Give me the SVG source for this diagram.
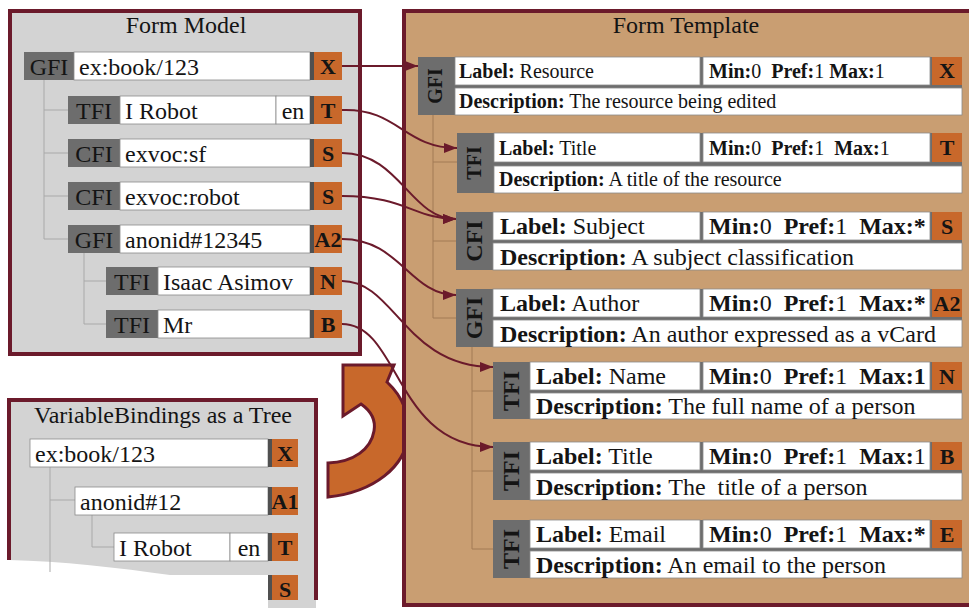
<svg xmlns="http://www.w3.org/2000/svg" width="969" height="608" viewBox="0 0 969 608">
<defs>
<style>
text{font-family:"Liberation Serif","Times New Roman",serif;fill:#141414}
.ttl{font-size:24px;text-anchor:middle}
.t{font-size:24px}
.c{font-size:24px;text-anchor:middle}
.ob{font-size:22px;font-weight:bold;text-anchor:middle}
.s{font-size:20px}
.b{font-size:24px}
.vl{font-weight:bold;text-anchor:middle}
.bold{font-weight:bold}
.gr{fill:#6d6d6d}
.wh{fill:#ffffff;stroke:#8a8a8a;stroke-width:0.8}
.or{fill:#c8682b}
.st{fill:#505050}
.tree{fill:none;stroke:#a9a9a9;stroke-width:1}
.tree2{fill:none;stroke:#a27a55;stroke-width:1}
.con{fill:none;stroke:#6b1a2b;stroke-width:2}
</style>
<marker id="ah" markerWidth="13" markerHeight="10" refX="13" refY="5" orient="auto" markerUnits="userSpaceOnUse"><path d="M0,0 L13,5 L0,10 z" fill="#6b1a2b"/></marker>
</defs>
<rect width="969" height="608" fill="#ffffff"/>

<!-- Form Model panel -->
<g id="form-model">
<rect x="10" y="11" width="350" height="343" fill="#d3d3d3" stroke="#6b1a2b" stroke-width="4"/>
<text class="ttl" x="186" y="33">Form Model</text>
<path class="tree" d="M44,80 V239 M44,110 H68 M44,153 H68 M44,196 H68 M44,239 H68 M84,252 V324 M84,281 H106 M84,324 H106"/>
</g>
<g id="fm-row1"><rect class="gr" x="24" y="52" width="50" height="28"/><rect class="wh" x="74" y="52" width="236" height="28"/><rect class="st" x="310" y="52" width="4" height="28"/><rect class="or" x="314" y="52" width="28" height="28"/>
<text class="c" x="49" y="75">GFI</text><text class="t" x="79" y="75">ex:book/123</text><text class="ob" x="328" y="74">X</text></g>
<g id="fm-row2"><rect class="gr" x="68" y="96" width="52" height="28"/><rect class="wh" x="120" y="96" width="156" height="28"/><rect class="wh" x="276" y="96" width="34" height="28"/><rect class="st" x="310" y="96" width="4" height="28"/><rect class="or" x="314" y="96" width="28" height="28"/>
<text class="c" x="94" y="119">TFI</text><text class="t" x="125" y="119">I Robot</text><text class="c" x="293" y="119">en</text><text class="ob" x="328" y="118">T</text></g>
<g id="fm-row3"><rect class="gr" x="68" y="139" width="52" height="28"/><rect class="wh" x="120" y="139" width="190" height="28"/><rect class="st" x="310" y="139" width="4" height="28"/><rect class="or" x="314" y="139" width="28" height="28"/>
<text class="c" x="94" y="162">CFI</text><text class="t" x="125" y="162">exvoc:sf</text><text class="ob" x="328" y="161">S</text></g>
<g id="fm-row4"><rect class="gr" x="68" y="182" width="52" height="28"/><rect class="wh" x="120" y="182" width="190" height="28"/><rect class="st" x="310" y="182" width="4" height="28"/><rect class="or" x="314" y="182" width="28" height="28"/>
<text class="c" x="94" y="205">CFI</text><text class="t" x="125" y="205">exvoc:robot</text><text class="ob" x="328" y="204">S</text></g>
<g id="fm-row5"><rect class="gr" x="68" y="225" width="52" height="28"/><rect class="wh" x="120" y="225" width="190" height="28"/><rect class="st" x="310" y="225" width="4" height="28"/><rect class="or" x="314" y="225" width="28" height="28"/>
<text class="c" x="94" y="248">GFI</text><text class="t" x="125" y="248">anonid#12345</text><text class="ob" x="328" y="247">A2</text></g>
<g id="fm-row6"><rect class="gr" x="106" y="267" width="52" height="28"/><rect class="wh" x="158" y="267" width="152" height="28"/><rect class="st" x="310" y="267" width="4" height="28"/><rect class="or" x="314" y="267" width="28" height="28"/>
<text class="c" x="132" y="290">TFI</text><text class="t" x="163" y="290">Isaac Asimov</text><text class="ob" x="328" y="289">N</text></g>
<g id="fm-row7"><rect class="gr" x="106" y="310" width="52" height="28"/><rect class="wh" x="158" y="310" width="152" height="28"/><rect class="st" x="310" y="310" width="4" height="28"/><rect class="or" x="314" y="310" width="28" height="28"/>
<text class="c" x="132" y="333">TFI</text><text class="t" x="163" y="333">Mr</text><text class="ob" x="328" y="332">B</text></g>

<!-- VariableBindings panel -->
<g id="variable-bindings">
<path d="M9,400 H316 V608 H268 V575 L170,575 C120,568 60,561 9,560 Z" fill="#d3d3d3"/>
<path d="M9,560 V400 H316 V600" fill="none" stroke="#6b1a2b" stroke-width="4"/>
<text class="ttl" x="163" y="423">VariableBindings as a Tree</text>
<path class="tree" d="M50,467 V572 M50,500 H75 M92,514 V547 H114"/>
</g>
<g id="vb-row1"><rect class="wh" x="30" y="439" width="238" height="28"/><rect class="st" x="268" y="439" width="4" height="28"/><rect class="or" x="272" y="439" width="26" height="28"/>
<text class="t" x="35" y="462">ex:book/123</text><text class="ob" x="285" y="461">X</text></g>
<g id="vb-row2"><rect class="wh" x="75" y="487" width="193" height="28"/><rect class="st" x="268" y="487" width="4" height="28"/><rect class="or" x="272" y="487" width="26" height="28"/>
<text class="t" x="80" y="510">anonid#12</text><text class="ob" x="285" y="509">A1</text></g>
<g id="vb-row3"><rect class="wh" x="114" y="533" width="116" height="28"/><rect class="wh" x="230" y="533" width="38" height="28"/><rect class="st" x="268" y="533" width="4" height="28"/><rect class="or" x="272" y="533" width="26" height="28"/>
<text class="t" x="119" y="556">I Robot</text><text class="c" x="249" y="556">en</text><text class="ob" x="285" y="555">T</text></g>
<g id="vb-row4"><rect class="st" x="268" y="575" width="4" height="25"/><rect class="or" x="272" y="575" width="26" height="25"/>
<text class="ob" x="285" y="597">S</text></g>

<!-- curved arrow -->
<g id="curved-arrow">
<path d="M343,365 L394,365 L387,382 C402,396 410,415 408,436 C405,466 375,492 328,497 L328,463 C354,462 371,449 374,431 C376,420 371,411 361,404 L343,416 Z" fill="#c8682b" stroke="#6b1a2b" stroke-width="3" stroke-linejoin="miter"/>
</g>

<!-- Form Template panel -->
<g id="form-template">
<rect x="404" y="11" width="580" height="594" fill="#c99e72" stroke="#6b1a2b" stroke-width="4"/>
<text class="ttl" x="686" y="33">Form Template</text>
<path class="tree2" d="M433,115 V318 M433,162 H457 M433,241 H456 M433,318 H456 M472,347 V549 M472,391 H493 M472,471 H493 M472,549 H493"/>
</g>

<g id="ft-resource">
<rect class="gr" x="418" y="57" width="544" height="58"/>
<rect class="wh" x="455" y="57" width="245" height="28"/><rect class="wh" x="703" y="57" width="227" height="28"/><rect class="or" x="932" y="57" width="30" height="28"/><rect class="wh" x="455" y="88" width="507" height="27"/>
<text class="vl s" transform="translate(442,86) rotate(-90)">GFI</text>
<text class="s" x="459" y="78"><tspan class="bold">Label:</tspan> Resource</text>
<text class="s" x="709" y="78" xml:space="preserve"><tspan class="bold">Min:</tspan>0  <tspan class="bold">Pref:</tspan>1 <tspan class="bold">Max:</tspan>1</text>
<text class="ob" x="947" y="78">X</text>
<text class="s" x="459" y="108"><tspan class="bold">Description:</tspan> The resource being edited</text>
</g>
<g id="ft-title">
<rect class="gr" x="457" y="133" width="505" height="60"/>
<rect class="wh" x="494" y="133" width="206" height="29"/><rect class="wh" x="703" y="133" width="227" height="29"/><rect class="or" x="932" y="133" width="30" height="29"/><rect class="wh" x="494" y="166" width="468" height="27"/>
<text class="vl s" transform="translate(481,163) rotate(-90)">TFI</text>
<text class="s" x="499" y="155"><tspan class="bold">Label:</tspan> Title</text>
<text class="s" x="709" y="155" xml:space="preserve"><tspan class="bold">Min:</tspan>0  <tspan class="bold">Pref:</tspan>1  <tspan class="bold">Max:</tspan>1</text>
<text class="ob" x="947" y="155">T</text>
<text class="s" x="499" y="186"><tspan class="bold">Description:</tspan> A title of the resource</text>
</g>
<g id="ft-subject">
<rect class="gr" x="456" y="212" width="506" height="58"/>
<rect class="wh" x="493" y="212" width="207" height="28"/><rect class="wh" x="703" y="212" width="227" height="28"/><rect class="or" x="932" y="212" width="30" height="28"/><rect class="wh" x="493" y="243" width="469" height="27"/>
<text class="vl b" transform="translate(482,241) rotate(-90)">CFI</text>
<text class="b" x="500" y="234"><tspan class="bold">Label:</tspan> Subject</text>
<text class="b" x="709" y="234" xml:space="preserve"><tspan class="bold">Min:</tspan>0  <tspan class="bold">Pref:</tspan>1  <tspan class="bold">Max:*</tspan></text>
<text class="ob" x="947" y="234">S</text>
<text class="b" x="500" y="265"><tspan class="bold">Description:</tspan> A subject classification</text>
</g>
<g id="ft-author">
<rect class="gr" x="456" y="289" width="506" height="58"/>
<rect class="wh" x="493" y="289" width="207" height="28"/><rect class="wh" x="703" y="289" width="227" height="28"/><rect class="or" x="932" y="289" width="30" height="28"/><rect class="wh" x="493" y="320" width="469" height="27"/>
<text class="vl b" transform="translate(482,318) rotate(-90)">GFI</text>
<text class="b" x="500" y="311"><tspan class="bold">Label:</tspan> Author</text>
<text class="b" x="709" y="311" xml:space="preserve"><tspan class="bold">Min:</tspan>0  <tspan class="bold">Pref:</tspan>1  <tspan class="bold">Max:*</tspan></text>
<text class="ob" x="947" y="311">A2</text>
<text class="b" x="500" y="342"><tspan class="bold">Description:</tspan> An author expressed as a vCard</text>
</g>
<g id="ft-name">
<rect class="gr" x="493" y="362" width="469" height="57"/>
<rect class="wh" x="530" y="362" width="170" height="28"/><rect class="wh" x="703" y="362" width="227" height="28"/><rect class="or" x="932" y="362" width="30" height="28"/><rect class="wh" x="530" y="393" width="432" height="26"/>
<text class="vl b" transform="translate(519,391) rotate(-90)">TFI</text>
<text class="b" x="536" y="384"><tspan class="bold">Label:</tspan> Name</text>
<text class="b" x="709" y="384" xml:space="preserve"><tspan class="bold">Min:</tspan>0  <tspan class="bold">Pref:</tspan>1  <tspan class="bold">Max:1</tspan></text>
<text class="ob" x="947" y="384">N</text>
<text class="b" x="536" y="414"><tspan class="bold">Description:</tspan> The full name of a person</text>
</g>
<g id="ft-ptitle">
<rect class="gr" x="493" y="442" width="469" height="58"/>
<rect class="wh" x="530" y="442" width="170" height="28"/><rect class="wh" x="703" y="442" width="227" height="28"/><rect class="or" x="932" y="442" width="30" height="28"/><rect class="wh" x="530" y="473" width="432" height="27"/>
<text class="vl b" transform="translate(519,471) rotate(-90)">TFI</text>
<text class="b" x="536" y="464"><tspan class="bold">Label:</tspan> Title</text>
<text class="b" x="709" y="464" xml:space="preserve"><tspan class="bold">Min:</tspan>0  <tspan class="bold">Pref:</tspan>1  <tspan class="bold">Max:</tspan>1</text>
<text class="ob" x="947" y="464">B</text>
<text class="b" x="536" y="495" xml:space="preserve"><tspan class="bold">Description:</tspan> The  title of a person</text>
</g>
<g id="ft-email">
<rect class="gr" x="493" y="520" width="469" height="58"/>
<rect class="wh" x="530" y="520" width="170" height="28"/><rect class="wh" x="703" y="520" width="227" height="28"/><rect class="or" x="932" y="520" width="30" height="28"/><rect class="wh" x="530" y="551" width="432" height="27"/>
<text class="vl b" transform="translate(519,549) rotate(-90)">TFI</text>
<text class="b" x="536" y="542"><tspan class="bold">Label:</tspan> Email</text>
<text class="b" x="709" y="542" xml:space="preserve"><tspan class="bold">Min:</tspan>0  <tspan class="bold">Pref:</tspan>1  <tspan class="bold">Max:*</tspan></text>
<text class="ob" x="947" y="542">E</text>
<text class="b" x="536" y="573"><tspan class="bold">Description:</tspan> An email to the person</text>
</g>

<!-- connectors -->
<g id="connectors">
<path class="con" marker-end="url(#ah)" d="M342,66 H418"/>
<path class="con" marker-end="url(#ah)" d="M342,110 C398,108 404,148 457,148"/>
<path class="con" marker-end="url(#ah)" d="M342,153 C400,153 410,219 456,219"/>
<path class="con" marker-end="url(#ah)" d="M342,196 C405,196 415,219 456,219"/>
<path class="con" marker-end="url(#ah)" d="M342,239 C400,239 410,295 456,295"/>
<path class="con" marker-end="url(#ah)" d="M342,281 C395,281 405,367 493,367"/>
<path class="con" marker-end="url(#ah)" d="M342,324 C400,324 395,447 493,447"/>
</g>
</svg>
